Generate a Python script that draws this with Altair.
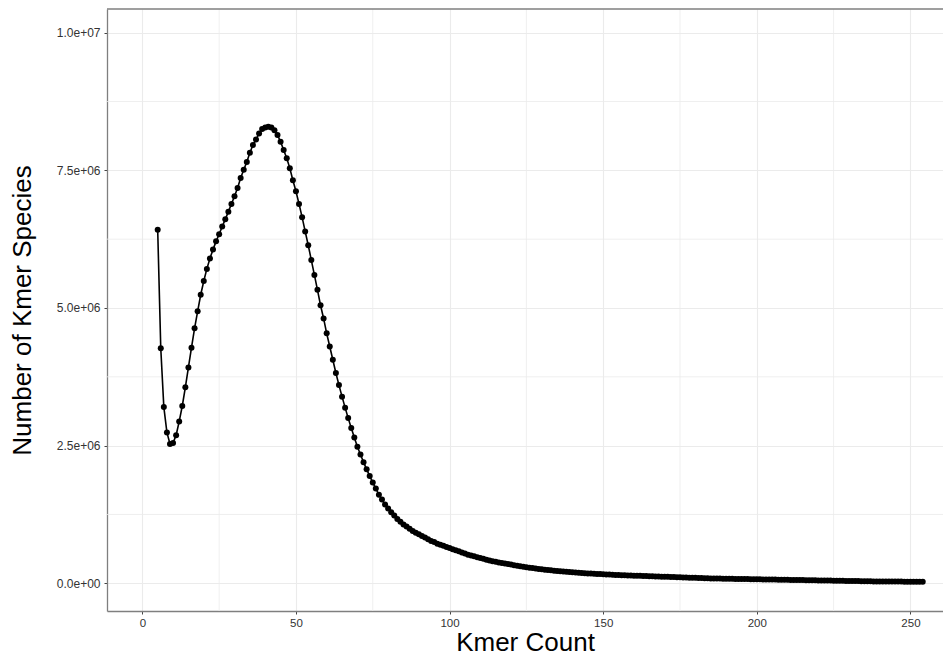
import altair as alt
import pandas as pd

# Kmer count (x) values 5..254
kmer_count = list(range(5, 255))

# Number of Kmer species, in millions (one per kmer count)
species_millions = [
    6.42, 4.27, 3.20, 2.74, 2.53, 2.55, 2.69, 2.94, 3.22, 3.56,   # 5-14
    3.92, 4.28, 4.63, 4.94, 5.24, 5.49, 5.71, 5.90, 6.06, 6.21,   # 15-24
    6.34, 6.48, 6.61, 6.75, 6.89, 7.03, 7.18, 7.36, 7.51, 7.65,   # 25-34
    7.82, 7.96, 8.06, 8.17, 8.25, 8.28, 8.29, 8.28, 8.23, 8.14,   # 35-44
    8.02, 7.87, 7.72, 7.54, 7.32, 7.12, 6.89, 6.65, 6.39, 6.14,   # 45-54
    5.87, 5.60, 5.33, 5.05, 4.81, 4.54, 4.30, 4.06, 3.82, 3.60,   # 55-64
    3.39, 3.19, 3.00, 2.82, 2.65, 2.48, 2.34, 2.20, 2.07, 1.95,   # 65-74
    1.83, 1.72, 1.61, 1.52, 1.43, 1.36, 1.29, 1.23, 1.17, 1.12,   # 75-84
    1.07, 1.03, 0.99, 0.95, 0.92, 0.89, 0.86, 0.83, 0.80, 0.77,   # 85-94
    0.75, 0.72, 0.70, 0.68, 0.66, 0.64, 0.62, 0.60, 0.58, 0.56,   # 95-104
    0.54, 0.52, 0.505, 0.49, 0.475, 0.46, 0.445, 0.43, 0.415, 0.40,   # 105-114
    0.39, 0.38, 0.37, 0.36, 0.35, 0.34, 0.33, 0.32, 0.31, 0.30,   # 115-124
    0.292, 0.284, 0.276, 0.268, 0.261, 0.254, 0.248, 0.242, 0.236, 0.230,   # 125-134
    0.225, 0.220, 0.215, 0.210, 0.205, 0.200, 0.196, 0.192, 0.188, 0.184,   # 135-144
    0.180, 0.177, 0.174, 0.171, 0.168, 0.165, 0.162, 0.159, 0.156, 0.153,   # 145-154
    0.150, 0.148, 0.146, 0.143, 0.141, 0.139, 0.137, 0.135, 0.133, 0.131,   # 155-164
    0.129, 0.127, 0.125, 0.123, 0.121, 0.119, 0.117, 0.115, 0.113, 0.111,   # 165-174
    0.109, 0.107, 0.105, 0.103, 0.101, 0.099, 0.097, 0.095, 0.093, 0.091,   # 175-184
    0.089, 0.087, 0.086, 0.085, 0.084, 0.083, 0.082, 0.081, 0.080, 0.079,   # 185-194
    0.078, 0.077, 0.076, 0.075, 0.074, 0.073, 0.072, 0.071, 0.070, 0.069,   # 195-204
    0.068, 0.067, 0.066, 0.065, 0.064, 0.063, 0.062, 0.061, 0.060, 0.059,   # 205-214
    0.058, 0.057, 0.056, 0.055, 0.054, 0.053, 0.052, 0.051, 0.050, 0.049,   # 215-224
    0.048, 0.047, 0.046, 0.045, 0.044, 0.043, 0.042, 0.041, 0.040, 0.039,   # 225-234
    0.038, 0.037, 0.036, 0.035, 0.035, 0.034, 0.034, 0.033, 0.033, 0.032,   # 235-244
    0.032, 0.031, 0.031, 0.030, 0.030, 0.029, 0.029, 0.028, 0.028, 0.027,   # 245-254
]

x_major = [0, 50, 100, 150, 200, 250]
x_minor = [25, 75, 125, 175, 225]
y_major = [0, 2.5e6, 5.0e6, 7.5e6, 1.0e7]
y_minor = [1.25e6, 3.75e6, 6.25e6, 8.75e6]

df = pd.DataFrame({
    "count": kmer_count,
    "species": [v * 1e6 for v in species_millions],
})

W, H = 836, 602
FONT = "Liberation Sans"
xscale = alt.Scale(domain=[-11.5, 260.6], nice=False, zero=False)
yscale = alt.Scale(domain=[-503000, 10430000], nice=False, zero=False)

xaxis = alt.Axis(
    values=x_major, grid=True, gridColor="#EBEBEB", gridWidth=1.1,
    tickSize=3, tickColor="#444444", tickWidth=1,
    domain=True, domainColor="#7f7f7f", domainWidth=1.3,
    labelFont=FONT, labelFontSize=11.5, labelColor="#333333", labelPadding=3,
    labelFlush=False,
    title="Kmer Count", titleFont=FONT, titleFontSize=26, titleFontWeight="normal",
    titleColor="#000000", titleBaseline="alphabetic", titleY=39, titleX=W / 2,
)
yaxis = alt.Axis(
    values=y_major, grid=True, gridColor="#EBEBEB", gridWidth=1.1,
    tickSize=3, tickColor="#444444", tickWidth=1,
    domain=True, domainColor="#7f7f7f", domainWidth=1.3,
    labelFont=FONT, labelFontSize=12, labelColor="#333333", labelPadding=4,
    labelFlush=False,
    labelExpr="replace(format(datum.value, '.1e'), 'e+', 'e+0')",
    title="Number of Kmer Species", titleFont=FONT, titleFontSize=26,
    titleFontWeight="normal", titleColor="#000000", titleAngle=270,
    titleBaseline="alphabetic", titleAlign="center", titleX=-77, titleY=H / 2,
)

base = alt.Chart(df)

xminor = alt.Chart(pd.DataFrame({"v": x_minor})).mark_rule(
    color="#EBEBEB", strokeWidth=0.8
).encode(x=alt.X("v:Q", scale=xscale, axis=xaxis))

yminor = alt.Chart(pd.DataFrame({"v": y_minor})).mark_rule(
    color="#EBEBEB", strokeWidth=0.8
).encode(y=alt.Y("v:Q", scale=yscale, axis=yaxis))

line = base.mark_line(color="black", strokeWidth=1.6).encode(
    x=alt.X("count:Q", scale=xscale, axis=xaxis),
    y=alt.Y("species:Q", scale=yscale, axis=yaxis),
)
points = base.mark_circle(color="black", size=36, opacity=1).encode(
    x=alt.X("count:Q", scale=xscale, axis=xaxis),
    y=alt.Y("species:Q", scale=yscale, axis=yaxis),
)

top_border = alt.Chart(pd.DataFrame({"v": [0]})).mark_rule(
    color="#7f7f7f", strokeWidth=1.3
).encode(x=alt.value(0), x2=alt.value(W), y=alt.value(0))

chart = alt.layer(xminor, yminor, line, points, top_border).properties(
    width=W, height=H,
    padding={"left": 99, "top": 1, "right": 0, "bottom": 46},
    autosize=alt.AutoSizeParams(type="none"),
    background="white",
).configure_view(stroke=None)

chart.save("out.html", embed_options={"renderer": "svg", "actions": False})
